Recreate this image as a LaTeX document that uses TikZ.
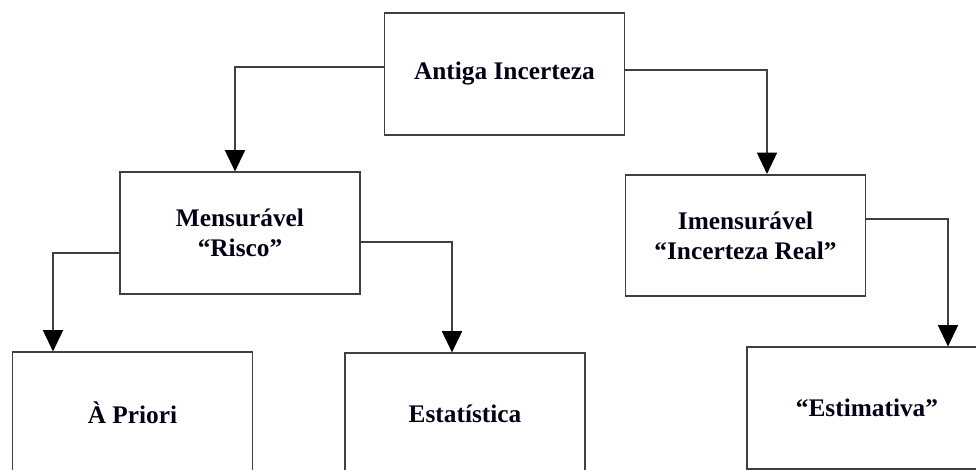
\documentclass[tikz,border=0pt]{standalone}
\usepackage{fontspec}
\setmainfont{Liberation Serif}
\usetikzlibrary{arrows.meta,calc}

\begin{document}
\begin{tikzpicture}[x=0.75pt, y=-0.75pt,
  caixa/.style={draw=black!75, line width=1.3pt, minimum width=180pt, minimum height=91pt,
    align=center, font=\fontsize{19}{22.5}\selectfont\bfseries, text=black!90!blue},
  seta/.style={draw=black!75, line width=1.3pt, -{Triangle[length=16pt,width=15pt,color=black]}}]
\clip (0,0) rectangle (976,470);
%
\node[caixa] (antiga) at (504.5,74) {Antiga Incerteza};
\node[caixa] (mens) at (240,233) {Mensurável\\\textquotedblleft Risco\textquotedblright};
\node[caixa] (imens) at (745.5,235.5) {Imensurável\\\textquotedblleft Incerteza Real\textquotedblright};
%
\node[caixa] (priori) at (132.5,413) {À Priori};
\node[caixa] (estat) at (465,414) {Estatística};
\node[caixa] (estim) at (867,408) {\textquotedblleft Estimativa\textquotedblright};
%
\draw[seta] ($(antiga.west)+(0,-7)$) -| ($(mens.north)+(-5,0)$);
\draw[seta] ($(antiga.east)+(0,-4)$) -| ($(imens.north)+(21.5,0)$);
%
\draw[seta] ($(mens.west)+(0,20)$) -| ($(priori.north)+(-79.5,0)$);
\draw[seta] ($(mens.east)+(0,9)$) -| ($(estat.north)+(-13,0)$);
\draw[seta] ($(imens.east)+(0,-16.5)$) -| ($(estim.north)+(81,0)$);
\end{tikzpicture}
\end{document}
